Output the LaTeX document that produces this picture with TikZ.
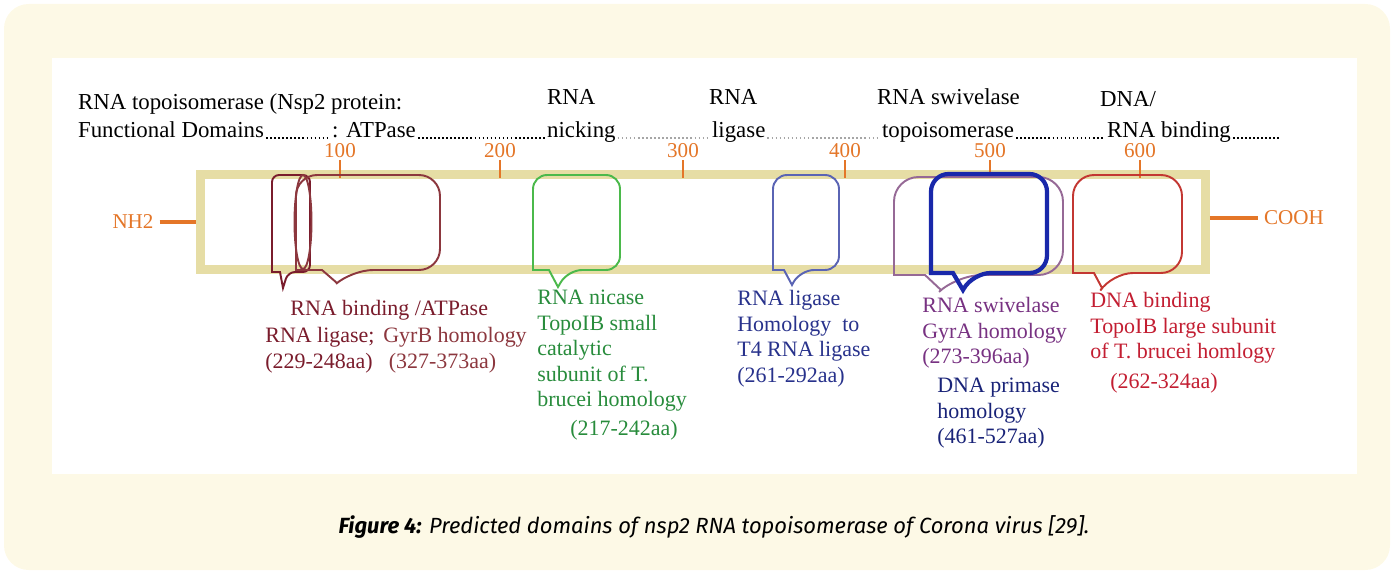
\documentclass[tikz,border=0pt]{standalone}
\usepackage{fontspec}
\setmainfont{Liberation Serif}
\newfontfamily\capfont{Fira Sans}
\usepackage{xcolor}
\usetikzlibrary{positioning}
\definecolor{cream}{RGB}{253,249,230}
\definecolor{khaki}{RGB}{230,221,165}
\definecolor{tickorange}{RGB}{228,118,40}
\definecolor{maroon}{RGB}{122,28,44}
\definecolor{atpbrown}{RGB}{140,55,62}
\definecolor{nicgreen}{RGB}{75,185,75}
\definecolor{nictext}{RGB}{40,140,60}
\definecolor{ligblue}{RGB}{90,100,180}
\definecolor{ligtext}{RGB}{40,50,140}
\definecolor{swivpurple}{RGB}{150,105,150}
\definecolor{swivtext}{RGB}{120,50,130}
\definecolor{primblue}{RGB}{25,40,170}
\definecolor{primtext}{RGB}{25,35,120}
\definecolor{bindred}{RGB}{195,55,50}
\definecolor{bindtext}{RGB}{195,30,50}
\tikzstyle{tick} = [tickorange, thick]
\tikzstyle{dom} = [line width=1.1pt]

\begin{document}
\begin{tikzpicture}[
	x=0.02cm, y=-0.02cm,
	hd/.style={font=\fontsize{13}{16}\selectfont, inner sep=1pt, anchor=base west},
	lbl/.style={font=\fontsize{12.5}{14.5}\selectfont, inner sep=0pt, anchor=north west, align=left},
	ticklbl/.style={font=\fontsize{12}{14}\selectfont, text=tickorange, inner sep=1pt},
	dots/.style={line width=0.9pt, dash pattern=on 0.9pt off 1.4pt},
	faint/.style={dots, black!35}
	]
	
	% panel
	\useasboundingbox (0,0) rectangle (1394,574);
	\fill[cream, rounded corners=14pt] (4,4) rectangle (1390,570);
	\fill[white] (52,58) rectangle (1357,474);
	
	% header
	\node[hd] (title) at (76,110) {RNA topoisomerase (Nsp2 protein:};
	\node[hd] (fd) at (76,138) {Functional Domains};
	\node[hd] (atp) at (330,138) {: ATPase};
	\node[hd] (nick) at (545,138) {nicking};
	\node[hd] (lig) at (710,138) {ligase};
	\node[hd] (topo) at (880,138) {topoisomerase};
	\node[hd] (bind) at (1105,138) {RNA binding};
	\coordinate (hdend) at (1280,138);
	\node[hd] (rna1) at (545,105) {RNA};
	\node[hd] (rna2) at (707,105) {RNA};
	\node[hd] (swiv) at (875,105) {RNA swivelase};
	\node[hd] (dna) at (1098,107) {DNA/};
	
	\draw[dots] (fd.base east) -- (atp.base west);
	\draw[dots] (atp.base east) -- (nick.base west);
	\draw[faint] (nick.base east) -- (lig.base west);
	\draw[faint] (lig.base east) -- (topo.base west);
	\draw[dots] (topo.base east) -- (bind.base west);
	\draw[dots] (bind.base east) -- (hdend);
	
	% protein bar
	\node[draw=khaki, line width=5pt, minimum width=20.1cm, minimum height=1.9cm] (bar) at (703,222) {};
	\node[text=tickorange, font=\fontsize{12}{14}\selectfont] (nh2) at (133,222) {NH2};
	\node[text=tickorange, font=\fontsize{12}{14}\selectfont] (cooh) at (1294,218) {COOH};
	\draw[tickorange, line width=2pt] (nh2) -- (bar.west);
	\draw[tickorange, line width=2pt] (bar.east |- cooh) -- (cooh);
	
	\foreach \n/\x in {100/340,200/500,300/683,400/845,500/990,600/1140}{
		\node[ticklbl] (t\n) at (\x,151) {\n};
		\coordinate (b\n) at (\x,178);
		\draw[tick] (t\n.south) -- (b\n);
	}
	
	% domains
	\draw[dom, maroon] (283,288) -- (280,272) -- (272,272) [rounded corners=4pt] -- (272,175) -- (310,175) -- (310,272) -- (288,272) [sharp corners] -- cycle;
	\draw[dom, atpbrown] (337,283) -- (322,270) -- (296,270) [rounded corners=12pt] -- (296,175) -- (440,175) -- (440,270) -- (352,270) [sharp corners] -- cycle;
	\draw[dom, atpbrown] (303,222) ellipse [x radius=0.17cm, y radius=0.94cm];
	\draw[dom, nicgreen] (558,287) -- (549,270) -- (533,270) [rounded corners=8pt] -- (533,175) -- (620,175) -- (620,270) -- (568,270) [sharp corners] -- cycle;
	\draw[dom, ligblue] (792,285) -- (784,270) -- (773,270) [rounded corners=8pt] -- (773,175) -- (839,175) -- (839,270) -- (800,270) [sharp corners] -- cycle;
	\draw[dom, swivpurple] (941,290) -- (925,275) -- (894,275) [rounded corners=14pt] -- (894,177) -- (1063,177) -- (1063,275) -- (957,275) [sharp corners] -- cycle;
	\draw[primblue, line width=2.4pt] (963,290) -- (953,273) -- (931,273) [rounded corners=10pt] -- (931,174) -- (1047,174) -- (1047,273) -- (973,273) [sharp corners] -- cycle;
	\draw[dom, bindred] (1102,288) -- (1094,273) -- (1073,273) [rounded corners=12pt] -- (1073,175) -- (1182,175) -- (1182,273) -- (1112,273) [sharp corners] -- cycle;
	
	% domain labels
	\node[lbl, text=maroon] (atpl) at (290,300) {RNA binding /ATPase};
	\node[lbl, text=maroon] (rlig) at (265,327) {RNA ligase;\\(229-248aa)};
	\node[lbl, text=atpbrown] (gyrb) at (383,327) {GyrB homology\\\ (327-373aa)};
	\node[lbl, text=nictext] (nicl) at (537,290) {RNA nicase\\TopoIB small\\catalytic\\subunit of T.\\brucei homology};
	\node[lbl, text=nictext] (nicaa) at (570,420) {(217-242aa)};
	\node[lbl, text=ligtext] (ligl) at (737,290) {RNA ligase\\Homology\ \ to\\T4 RNA ligase\\(261-292aa)};
	\node[lbl, text=swivtext] (swivl) at (922,297) {RNA swivelase\\GyrA homology\\(273-396aa)};
	\node[lbl, text=primtext] (priml) at (937,378) {DNA primase\\homology\\(461-527aa)};
	\node[lbl, text=bindtext] (bindl) at (1090,292) {DNA binding\\TopoIB large subunit\\of T. brucei homlogy};
	\node[lbl, text=bindtext] (bindaa) at (1110,373) {(262-324aa)};
	
	% caption
	\node[font=\capfont\itshape\fontsize{12.5}{15}\selectfont] (cap) at (714,527) {\textbf{Figure 4:} Predicted domains of nsp2 RNA topoisomerase of Corona virus [29].};
\end{tikzpicture}
\end{document}
